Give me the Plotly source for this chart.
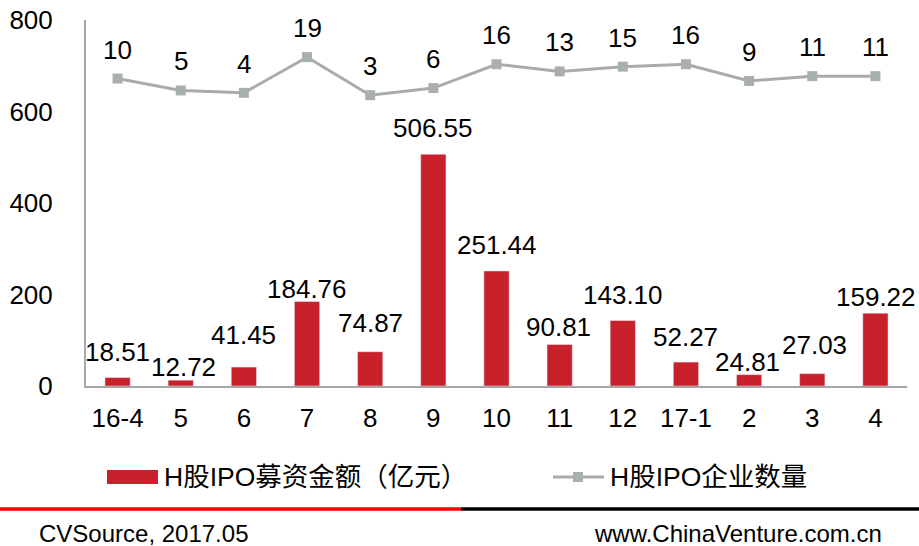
import plotly.graph_objects as go

# ---------------- data ----------------
months = ["16-4", "5", "6", "7", "8", "9", "10", "11", "12", "17-1", "2", "3", "4"]
amount = [18.51, 12.72, 41.45, 184.76, 74.87, 506.55, 251.44, 90.81, 143.10, 52.27, 24.81, 27.03, 159.22]
count = [10, 5, 4, 19, 3, 6, 16, 13, 15, 16, 9, 11, 11]
y_ticks = [0, 200, 400, 600, 800]

bar_name = "H股IPO募资金额（亿元）"
line_name = "H股IPO企业数量"
source_text = "CVSource, 2017.05"
site_text = "www.ChinaVenture.com.cn"

# label vertical offsets (px above bar top), style only
bar_label_shift = [26.5, 14, 33, 13.5, 29.7, 27.3, 27, 18.5, 26.5, 26, 13.6, 30, 17]
bar_label_xshift = [0, 3, 0, 0, 0, 0, 0, -1, 0, 0, -2, 2, 1]

# ---------------- style ----------------
W, H = 919, 546
ML, MR, MT, MB = 86, 12, 20, 160
PW, PH = W - ML - MR, H - MT - MB
FONT = "Liberation Sans, Arial, Noto Sans CJK SC, sans-serif"
BAR_COLOR = "#C9212B"
LINE_COLOR = "#ABABAB"
MARK_COLOR = "#A8B0AD"
AXIS_COLOR = "#A6A6A6"
LBL = 26


def px_x(px):
    return (px - ML) / PW


def px_y(py):
    return (H - MB - py) / PH


fig = go.Figure()
fig.add_trace(go.Bar(x=months, y=amount, name=bar_name, marker_color=BAR_COLOR,
                     width=0.4, yaxis="y", showlegend=False))
fig.add_trace(go.Scatter(x=months, y=count, name=line_name, mode="lines+markers",
                         line=dict(color=LINE_COLOR, width=3),
                         marker=dict(symbol="square", size=10, color=MARK_COLOR),
                         yaxis="y2", showlegend=False))

annotations = []
for i, (v, s, xs) in enumerate(zip(amount, bar_label_shift, bar_label_xshift)):
    annotations.append(dict(x=i, y=v, xref="x", yref="y", text=f"{v:.2f}", showarrow=False,
                            yanchor="middle", yshift=s - 1, xshift=xs,
                            font=dict(size=LBL, color="#000000", family=FONT)))
for i, c in enumerate(count):
    annotations.append(dict(x=i, y=c, xref="x", yref="y2", text=str(c), showarrow=False,
                            yanchor="middle", yshift=29,
                            font=dict(size=LBL, color="#000000", family=FONT)))

# manual legend
annotations.append(dict(x=px_x(162), y=px_y(477), xref="paper", yref="paper", text=bar_name,
                        showarrow=False, xanchor="left", yanchor="middle",
                        font=dict(size=26.5, color="#000000", family=FONT)))
annotations.append(dict(x=px_x(608), y=px_y(477), xref="paper", yref="paper", text=line_name,
                        showarrow=False, xanchor="left", yanchor="middle",
                        font=dict(size=26.5, color="#000000", family=FONT)))
# footer texts
annotations.append(dict(x=px_x(37), y=px_y(533), xref="paper", yref="paper", text=source_text,
                        showarrow=False, xanchor="left", yanchor="middle",
                        font=dict(size=24, color="#000000", family=FONT)))
annotations.append(dict(x=px_x(884), y=px_y(533), xref="paper", yref="paper", text=site_text,
                        showarrow=False, xanchor="right", yanchor="middle",
                        font=dict(size=24, color="#000000", family=FONT)))

shapes = [
    dict(type="rect", xref="paper", yref="paper", x0=px_x(107), x1=px_x(158),
         y0=px_y(470), y1=px_y(484), fillcolor=BAR_COLOR, line=dict(width=0)),
    dict(type="line", xref="paper", yref="paper", x0=px_x(553), x1=px_x(604),
         y0=px_y(477), y1=px_y(477), line=dict(color=LINE_COLOR, width=3)),
    dict(type="rect", xref="paper", yref="paper", x0=px_x(573), x1=px_x(583),
         y0=px_y(472), y1=px_y(482), fillcolor=MARK_COLOR, line=dict(width=0)),
    dict(type="line", xref="paper", yref="paper", x0=px_x(0), x1=px_x(461),
         y0=px_y(509), y1=px_y(509), line=dict(color="#FF0000", width=3.5)),
    dict(type="line", xref="paper", yref="paper", x0=px_x(461), x1=px_x(919),
         y0=px_y(509), y1=px_y(509), line=dict(color="#000000", width=3.5)),
]

fig.update_layout(
    width=W, height=H,
    margin=dict(l=ML, r=MR, t=MT, b=MB, pad=0, autoexpand=False),
    paper_bgcolor="white", plot_bgcolor="white",
    font=dict(family=FONT, size=LBL, color="#000000"),
    showlegend=False,
    bargap=0.6,
    xaxis=dict(type="category", range=[-0.5, len(months) - 0.5], autorange=False,
               showgrid=False, showline=True, linecolor=AXIS_COLOR, automargin=False,
               linewidth=2, ticks="", ticklabelstandoff=8,
               tickfont=dict(size=LBL, color="#000000", family=FONT)),
    yaxis=dict(range=[0, 800], tickvals=y_ticks, showgrid=False, showline=True,
               linecolor=AXIS_COLOR, linewidth=2, ticks="", zeroline=False, automargin=False,
               ticklabelstandoff=26, tickfont=dict(size=LBL, color="#000000", family=FONT)),
    yaxis2=dict(range=[-119.2, 34.6], overlaying="y", visible=False),
    annotations=annotations,
    shapes=shapes,
)

fig.write_html("out.html")
